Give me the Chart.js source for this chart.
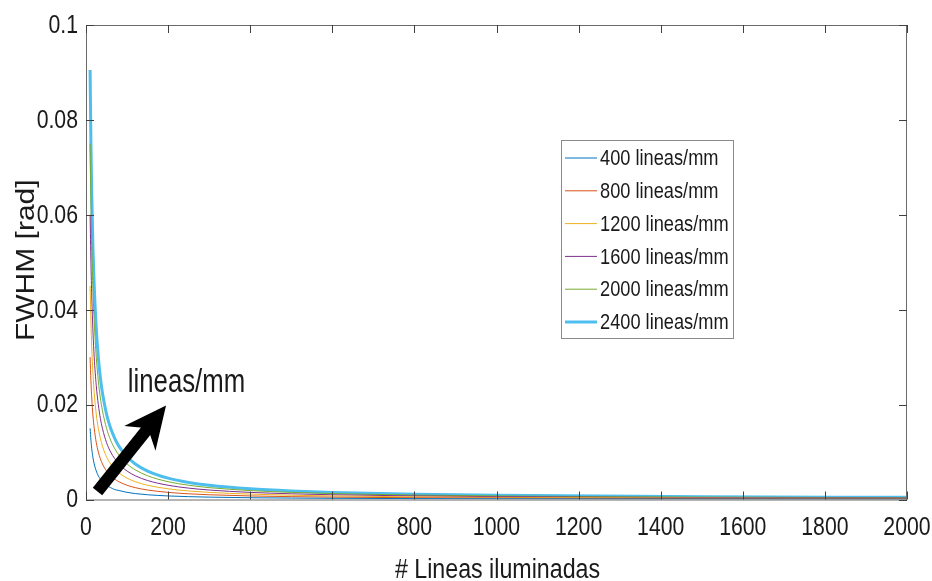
<!DOCTYPE html>
<html>
<head>
<meta charset="utf-8">
<script src="https://cdn.jsdelivr.net/npm/chart.js@4.4.1/dist/chart.umd.min.js"></script>
<style>
  html, body { margin: 0; padding: 0; background: #fff; }
  #wrap { width: 932px; height: 581px; }
</style>
</head>
<body>
<div id="wrap"><canvas id="fwhmChart" width="932" height="581"></canvas></div>
<script>
// Number of illuminated lines (x samples)
var lineasIluminadas = [10, 12, 14, 17, 20, 25, 30, 35, 40, 50, 60, 70, 80, 100, 120, 150, 200, 250, 300, 400, 500, 600, 800, 1000, 1250, 1500, 2000];

// FWHM [rad] for each grating
var fwhm400  = [0.015, 0.0125, 0.0107, 0.0088, 0.0075, 0.006, 0.005, 0.0043, 0.00375, 0.003, 0.0025, 0.0021, 0.0019, 0.0015, 0.00125, 0.001, 0.00075, 0.0006, 0.0005, 0.000375, 0.0003, 0.00025, 0.00019, 0.00015, 0.00012, 0.0001, 0.000075];
var fwhm800  = [0.03, 0.025, 0.0214, 0.0176, 0.015, 0.012, 0.01, 0.0086, 0.0075, 0.006, 0.005, 0.0043, 0.00375, 0.003, 0.0025, 0.002, 0.0015, 0.0012, 0.001, 0.00075, 0.0006, 0.0005, 0.000375, 0.0003, 0.00024, 0.0002, 0.00015];
var fwhm1200 = [0.045, 0.0375, 0.0321, 0.0265, 0.0225, 0.018, 0.015, 0.0129, 0.01125, 0.009, 0.0075, 0.0064, 0.0056, 0.0045, 0.00375, 0.003, 0.00225, 0.0018, 0.0015, 0.00113, 0.0009, 0.00075, 0.00056, 0.00045, 0.00036, 0.0003, 0.000225];
var fwhm1600 = [0.06, 0.05, 0.0429, 0.0353, 0.03, 0.024, 0.02, 0.0171, 0.015, 0.012, 0.01, 0.0086, 0.0075, 0.006, 0.005, 0.004, 0.003, 0.0024, 0.002, 0.0015, 0.0012, 0.001, 0.00075, 0.0006, 0.00048, 0.0004, 0.0003];
var fwhm2000 = [0.075, 0.0625, 0.0536, 0.0441, 0.0375, 0.03, 0.025, 0.0214, 0.01875, 0.015, 0.0125, 0.0107, 0.0094, 0.0075, 0.00625, 0.005, 0.00375, 0.003, 0.0025, 0.00188, 0.0015, 0.00125, 0.00094, 0.00075, 0.0006, 0.0005, 0.000375];
var fwhm2400 = [0.0905, 0.075, 0.0643, 0.0529, 0.045, 0.036, 0.03, 0.0257, 0.0225, 0.018, 0.015, 0.0129, 0.01125, 0.009, 0.0075, 0.006, 0.0045, 0.0036, 0.003, 0.00225, 0.0018, 0.0015, 0.00113, 0.0009, 0.00072, 0.0006, 0.00045];

var seriesLabels = ['400 lineas/mm', '800 lineas/mm', '1200 lineas/mm', '1600 lineas/mm', '2000 lineas/mm', '2400 lineas/mm'];
var seriesColors = ['#0072BD', '#D95319', '#EDB120', '#7E2F8E', '#77AC30', '#4DBEEE'];
var seriesWidths = [1, 1, 1, 1, 1, 3];

var FONT = "'Liberation Sans', Arial, Helvetica, sans-serif";
var TEXT_COLOR = '#1a1a1a';

// draw text squeezed horizontally (the figure looks condensed)
function squeezedText(ctx, text, x, y, size, k, align, baseline, rotate) {
    ctx.save();
    ctx.translate(x, y);
    if (rotate) ctx.rotate(-Math.PI / 2);
    if (rotate) ctx.scale(1, k); else ctx.scale(k, 1);
    ctx.font = size + 'px ' + FONT;
    ctx.textAlign = align;
    ctx.textBaseline = baseline;
    ctx.fillStyle = TEXT_COLOR;
    ctx.fillText(text, 0, 0);
    ctx.restore();
}

document.addEventListener('DOMContentLoaded', function() {
    var allSeries = [fwhm400, fwhm800, fwhm1200, fwhm1600, fwhm2000, fwhm2400];

    var datasets = allSeries.map(function(values, i) {
        return {
            label: seriesLabels[i],
            data: values.map(function(v, idx) { return { x: lineasIluminadas[idx], y: v }; }),
            borderColor: seriesColors[i],
            backgroundColor: seriesColors[i],
            borderWidth: seriesWidths[i],
            pointRadius: 0,
            cubicInterpolationMode: 'monotone',
            fill: false
        };
    });

    // MATLAB style box, inward ticks, tick labels and axis titles
    var boxPlugin = {
        id: 'matlabBox',
        afterDatasetsDraw: function(chart) {
            var ctx = chart.ctx;
            var a = chart.chartArea;
            var xs = chart.scales.x, ys = chart.scales.y;
            ctx.save();
            ctx.strokeStyle = '#6b6b6b';
            ctx.lineWidth = 1;
            ctx.strokeRect(a.left + 0.5, a.top + 0.5, a.right - a.left - 1, a.bottom - a.top);
            ctx.strokeStyle = '#404040';
            var tl = 8;
            ctx.beginPath();
            xs.ticks.forEach(function(t) {
                var px = Math.round(xs.getPixelForValue(t.value)) + 0.5;
                ctx.moveTo(px, a.bottom); ctx.lineTo(px, a.bottom - tl);
                ctx.moveTo(px, a.top); ctx.lineTo(px, a.top + tl);
            });
            ys.ticks.forEach(function(t) {
                var py = Math.round(ys.getPixelForValue(t.value)) + 0.5;
                ctx.moveTo(a.left, py); ctx.lineTo(a.left + tl, py);
                ctx.moveTo(a.right, py); ctx.lineTo(a.right - tl, py);
            });
            ctx.stroke();
            ctx.restore();

            xs.ticks.forEach(function(t) {
                squeezedText(ctx, String(t.value), xs.getPixelForValue(t.value), a.bottom + 29, 25, 0.85, 'center', 'middle');
            });
            ys.ticks.forEach(function(t) {
                squeezedText(ctx, String(+t.value.toFixed(2)), a.left - 8, ys.getPixelForValue(t.value) + 1, 25, 0.85, 'right', 'middle');
            });

            squeezedText(ctx, '# Lineas iluminadas', (a.left + a.right) / 2 + 1, a.bottom + 78, 27, 0.86, 'center', 'alphabetic');
            squeezedText(ctx, 'FWHM [rad]', 27, (a.top + a.bottom) / 2 - 2, 30, 0.83, 'center', 'middle', true);
        }
    };

    // Arrow + "lineas/mm" annotation, placed in data coordinates
    var arrowPlugin = {
        id: 'arrowNote',
        afterDatasetsDraw: function(chart) {
            var ctx = chart.ctx;
            var xs = chart.scales.x, ys = chart.scales.y;
            var tx = xs.getPixelForValue(28), ty = ys.getPixelForValue(0.0017);
            var hx = xs.getPixelForValue(195), hy = ys.getPixelForValue(0.0198);
            var dx = hx - tx, dy = hy - ty;
            var len = Math.sqrt(dx * dx + dy * dy);
            var ux = dx / len, uy = dy / len;
            var nx = -uy, ny = ux;
            var back = 42, notch = 29, half = 20;
            ctx.save();
            ctx.fillStyle = '#000';
            ctx.strokeStyle = '#000';
            ctx.lineWidth = 12;
            ctx.beginPath();
            ctx.moveTo(tx, ty);
            ctx.lineTo(hx - ux * (notch - 2), hy - uy * (notch - 2));
            ctx.stroke();
            ctx.beginPath();
            ctx.moveTo(hx, hy);
            ctx.lineTo(hx - ux * back + nx * half, hy - uy * back + ny * half);
            ctx.lineTo(hx - ux * notch, hy - uy * notch);
            ctx.lineTo(hx - ux * back - nx * half, hy - uy * back - ny * half);
            ctx.closePath();
            ctx.fill();
            ctx.restore();

            squeezedText(ctx, 'lineas/mm', xs.getPixelForValue(102), ys.getPixelForValue(0.0226), 33, 0.78, 'left', 'alphabetic');
        }
    };

    // Legend box inside the axes
    var legendPlugin = {
        id: 'insideLegend',
        afterDatasetsDraw: function(chart) {
            var ctx = chart.ctx;
            var a = chart.chartArea;
            var lx = a.left + 475, ly = a.top + 115;
            var w = 172, h = 198, row = 32.8;
            ctx.save();
            ctx.fillStyle = '#fff';
            ctx.fillRect(lx, ly, w, h);
            ctx.strokeStyle = '#8a8a8a';
            ctx.lineWidth = 1;
            ctx.strokeRect(lx + 0.5, ly + 0.5, w, h);
            chart.data.datasets.forEach(function(ds, i) {
                var cy = ly + 18 + i * row;
                ctx.strokeStyle = ds.borderColor;
                ctx.lineWidth = ds.borderWidth;
                ctx.beginPath();
                ctx.moveTo(lx + 4, cy);
                ctx.lineTo(lx + 36, cy);
                ctx.stroke();
            });
            ctx.restore();
            chart.data.datasets.forEach(function(ds, i) {
                squeezedText(ctx, ds.label, lx + 39, ly + 19 + i * row, 22.5, 0.81, 'left', 'middle');
            });
        }
    };

    var ctx = document.getElementById('fwhmChart').getContext('2d');
    var chart = new Chart(ctx, {
        type: 'line',
        data: { datasets: datasets },
        options: {
            responsive: false,
            animation: false,
            layout: { padding: { top: 25, right: 25, left: 0, bottom: 0 } },
            plugins: {
                legend: { display: false },
                tooltip: { enabled: false }
            },
            scales: {
                x: {
                    type: 'linear',
                    min: 0,
                    max: 2000,
                    grid: { display: false },
                    border: { display: false },
                    ticks: { stepSize: 200, display: false },
                    afterFit: function(scale) { scale.height = 81.5; }
                },
                y: {
                    type: 'linear',
                    min: 0,
                    max: 0.1,
                    grid: { display: false },
                    border: { display: false },
                    ticks: { stepSize: 0.02, display: false },
                    afterFit: function(scale) { scale.width = 86; }
                }
            }
        },
        plugins: [boxPlugin, arrowPlugin, legendPlugin]
    });
});
</script>
</body>
</html>
